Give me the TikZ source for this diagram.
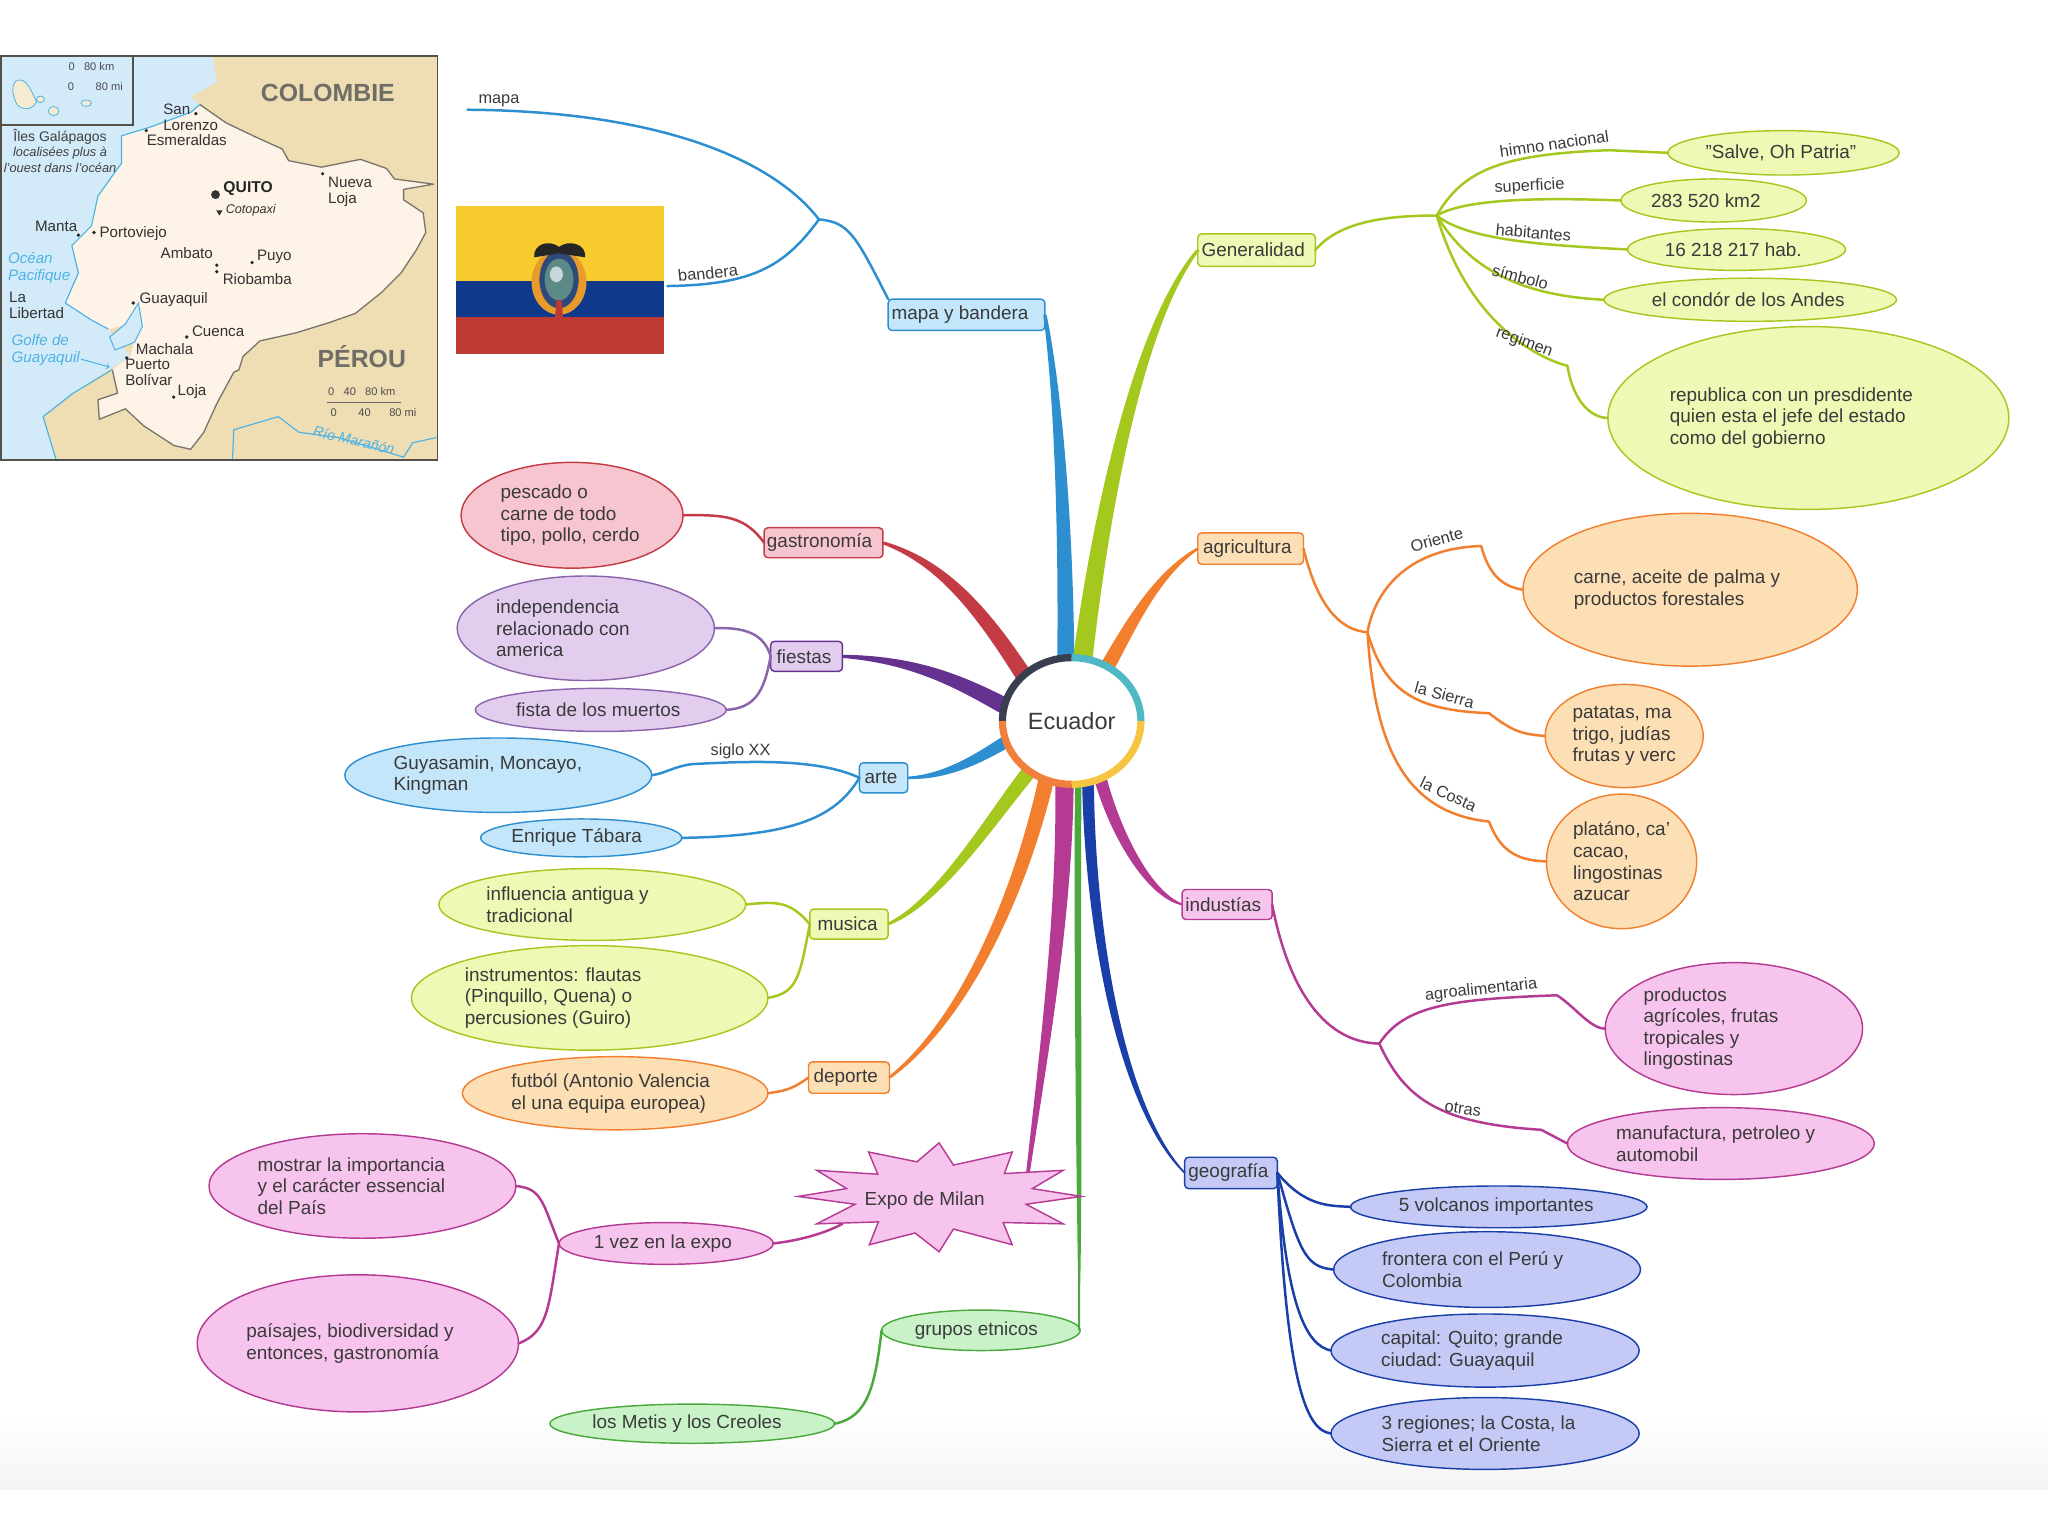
\documentclass[tikz,border=0pt]{standalone}
\usepackage{fontspec}
\setmainfont{Liberation Sans}
\usetikzlibrary{calc,shapes.geometric}
\definecolor{txt}{HTML}{3A3A3A}
\definecolor{cBlue}{HTML}{2E8FD0}\definecolor{fBlue}{HTML}{C4E6FA}
\definecolor{cLime}{HTML}{A4C81E}\definecolor{fLime}{HTML}{F0F8B6}
\definecolor{cOrange}{HTML}{F27F2E}\definecolor{fOrange}{HTML}{FDDFB5}
\definecolor{cRed}{HTML}{C23B45}\definecolor{fRed}{HTML}{F7C5D0}
\definecolor{cPurple}{HTML}{65328F}\definecolor{fPurple}{HTML}{E3CDEF}
\definecolor{cPink}{HTML}{B53A94}\definecolor{fPink}{HTML}{F6C4EC}
\definecolor{cNavy}{HTML}{1A3FA8}\definecolor{fNavy}{HTML}{C4C9F5}
\definecolor{cGreen}{HTML}{4AA83C}\definecolor{fGreen}{HTML}{C9F2C9}
\definecolor{mSea}{HTML}{D3EBF8}\definecolor{mTan}{HTML}{EFDDB3}
\definecolor{mLand}{HTML}{FDF3E6}\definecolor{mLine}{HTML}{77756A}
\definecolor{mWater}{HTML}{4DB3E6}\definecolor{mGrey}{HTML}{6E6E66}
\definecolor{flagY}{HTML}{F7CA2E}\definecolor{flagB}{HTML}{0F3A8C}\definecolor{flagR}{HTML}{BD3A32}
\definecolor{armG}{HTML}{E89A2A}\definecolor{armB}{HTML}{2E4A7A}\definecolor{armS}{HTML}{5C8A86}\definecolor{armW}{HTML}{C9D6DC}
\definecolor{rDark}{HTML}{3A3F50}\definecolor{rTeal}{HTML}{4FB8C4}\definecolor{rYel}{HTML}{F5C542}\definecolor{rOrg}{HTML}{F07F3C}
\tikzset{
  base/.style={font=\fontsize{14.5}{16.5}\selectfont,text=txt,align=left,inner sep=0pt,outer sep=0pt,line width=1.1pt},
  oval/.style={base,ellipse},
  tag/.style={base,rectangle,rounded corners=3pt},
  lnk/.style={line width=1.9pt,line cap=round,line join=round},
  lab/.style={font=\fontsize{12.5}{14}\selectfont,text=txt,inner sep=0pt},
  mtxt/.style={font=\fontsize{11.6}{12.5}\selectfont,text=black!80,inner sep=0pt,align=left},
  mblue/.style={font=\fontsize{11.6}{13}\itshape\selectfont,text=mWater,inner sep=0pt,align=left},
  msmall/.style={font=\fontsize{8.5}{10}\selectfont,text=black!70,inner sep=0pt},
}
\newcommand\pd[1]{\makebox[#1pt]{}}
% name x1 y1 x2 y2 style text
\newcommand\ov[7]{\node[oval,#6,minimum width={#4-#2},minimum height={#5-#3}] (#1) at ({(#2+#4)/2},{(#3+#5)/2}) {#7};}
\newcommand\tg[7]{\node[tag,#6,minimum width={#4-#2},minimum height={#5-#3}] (#1) at ({(#2+#4)/2},{(#3+#5)/2}) {#7};}
% colour, end, c1, c2, start, half-width vector
\newcommand\branch[6]{\fill[#1] ($#2+0.2*#6$) .. controls ($#3+0.5*#6$) and ($#4+0.85*#6$) .. ($#5+#6$) -- ($#5-#6$) .. controls ($#4-0.85*#6$) and ($#3-0.5*#6$) .. ($#2-0.2*#6$) -- cycle;}
\newcommand\mt[4][mtxt]{\node[#1] (#2) at #3 {#4};}
\begin{document}
\begin{tikzpicture}[x=1pt,y=-1pt]
\useasboundingbox (0,0) rectangle (1568,1176);
\fill[white] (0,0) rectangle (1568,1176);
\shade[top color=white,bottom color=black!4] (0,1080) rectangle (1568,1140);

%% ---------- map ----------
\fill[mTan] (0,43) rectangle (335,352);
\fill[mSea] (0,43) -- (163,43) -- (166,63) -- (146,74) -- (153,80) -- (146,86) -- (113,98) -- (93,104) -- (93,125) -- (75,150) -- (70,173) -- (55,188) -- (60,209) -- (50,232) -- (70,245) -- (83,252) -- (100,273) -- (83,283) -- (56,301) -- (33,319) -- (43,352) -- (0,352) -- cycle;
\fill[mLand] (153,80) -- (173,94) -- (196,105) -- (216,114) -- (221,123) -- (246,128) -- (276,122) -- (296,129) -- (302,137) -- (332,141) -- (309,145) -- (309,153) -- (324,163) -- (326,178) -- (319,191) -- (307,209) -- (292,224) -- (272,240) -- (252,247) -- (226,255) -- (199,261) -- (186,273) -- (183,283) -- (179,285) -- (173,296) -- (166,309) -- (156,331) -- (146,344) -- (133,341) -- (110,326) -- (96,313) -- (76,321) -- (75,306) -- (90,301) -- (86,283) -- (100,273) -- (108,234) -- (100,248) -- (83,252) -- (70,245) -- (50,232) -- (60,209) -- (55,188) -- (70,173) -- (75,150) -- (93,125) -- (93,104) -- (113,98) -- (146,86) -- cycle;
\draw[mLine,line width=1pt,line join=round] (153,80) -- (173,94) -- (196,105) -- (216,114) -- (221,123) -- (246,128) -- (276,122) -- (296,129) -- (302,137) -- (332,141) -- (309,145) -- (309,153) -- (324,163) -- (326,178) -- (319,191) -- (307,209) -- (292,224) -- (272,240) -- (252,247) -- (226,255) -- (199,261) -- (186,273) -- (183,283) -- (179,285) -- (173,296) -- (166,309) -- (156,331) -- (146,344) -- (133,341) -- (110,326) -- (96,313) -- (76,321) -- (75,306) -- (90,301) -- (86,283);
\draw[mWater,line width=.9pt,line join=round] (153,80) -- (146,86) -- (113,98) -- (93,104) -- (93,125) -- (75,150) -- (70,173) -- (55,188) -- (60,209) -- (50,232) -- (70,245) -- (83,252);
\filldraw[fill=mSea,draw=mWater,line width=.8pt] (106,232) -- (109,250) -- (103,262) -- (88,268) -- (84,258) -- (96,248) -- cycle;
\draw[mWater,line width=.9pt] (86,283) -- (56,301) -- (33,319) -- (43,352);
\draw[mWater,line width=.9pt] (178,352) -- (179,329) -- (213,319) -- (229,331) -- (259,335) -- (286,343) -- (309,350) -- (316,339) -- (334,335);
\draw[mWater,line width=.8pt,->] (62,275) -- (84,281);
\fill[mSea] (0,43) rectangle (102,96);
\filldraw[fill=mTan!60!white,draw=mWater,line width=.6pt] (12,62) .. controls (20,58) and (24,70) .. (28,78) .. controls (24,86) and (14,84) .. (12,78) .. controls (10,72) and (8,68) .. (12,62);
\filldraw[fill=mTan!60!white,draw=mWater,line width=.6pt] (41,85) circle[x radius=4,y radius=3.5];
\filldraw[fill=mTan!60!white,draw=mWater,line width=.6pt] (66,79) circle[x radius=4,y radius=2.5];
\filldraw[fill=mTan!60!white,draw=mWater,line width=.6pt] (31,76) circle[x radius=3,y radius=2.5];
\draw[mLine!70!black,line width=1.4pt] (0,96) -- (102,96) -- (102,43);
\draw[mLine!70!black,line width=1.2pt] (0.6,43) rectangle (335,352);
\mt[font=\fontsize{19}{21}\bfseries\selectfont,text=mGrey,inner sep=0pt]{mCo}{(251,71)}{COLOMBIE}
\mt[font=\fontsize{19}{21}\bfseries\selectfont,text=mGrey,inner sep=0pt]{mPe}{(277,273)}{PÉROU}
\mt[msmall]{mI1}{(70,51)}{0 \ \ 80 km}
\mt[msmall]{mI2}{(73,66)}{0 \ \ \ \ \ \ 80 mi}
\mt[font=\fontsize{10.7}{12}\selectfont,text=black!75,inner sep=0pt]{mG1}{(46,105)}{Îles Galápagos}
\mt[font=\fontsize{9.8}{10.5}\itshape\selectfont,text=black!75,inner sep=0pt]{mG2}{(46,122)}{\shortstack{localisées plus à\\l'ouest dans l'océan}}
\mt{m1}{(146,90)}{San\\Lorenzo}
\mt{m2}{(143,107)}{Esmeraldas}
\mt[font=\fontsize{12}{14}\bfseries\selectfont,text=black!85,inner sep=0pt]{m3}{(190,144)}{QUITO}
\mt[font=\fontsize{9.7}{11}\itshape\selectfont,text=black!80,inner sep=0pt]{m4}{(192,161)}{Cotopaxi}
\mt{m5}{(268,147)}{Nueva\\Loja}
\mt{m6}{(43,173)}{Manta}
\mt{m7}{(102,179)}{Portoviejo}
\mt{m8}{(143,194)}{Ambato}
\mt{m9}{(210,197)}{Puyo}
\mt{m10}{(197,214)}{Riobamba}
\mt{m11}{(28,234)}{La\\Libertad}
\mt{m12}{(133,229)}{Guayaquil}
\mt{m13}{(167,254)}{Cuenca}
\mt{m14}{(126,267)}{Machala}
\mt{m15}{(114,285)}{Puerto\\Bolívar}
\mt{m16}{(147,300)}{Loja}
\mt[mblue]{m17}{(30,205)}{Océan\\Pacifique}
\mt[mblue]{m18}{(35,268)}{Golfe de\\Guayaquil}
\mt[mblue,font=\fontsize{11}{13}\itshape\selectfont]{m19}{(271,337)}{\rotatebox{-13}{Río Marañón}}
\mt[msmall]{m20}{(277,300)}{0 \ \ 40 \ \ 80 km}
\mt[msmall]{m21}{(286,316)}{0 \ \ \ \ \ \ 40 \ \ \ \ \ 80 mi}
\draw[black!60,line width=.6pt] (250,308) -- (307,308);
\foreach \p in {(112,100),(72,178),(247,133),(60,180),(166,203),(193,201),(166,208),(102,232),(143,258),(97,274),(133,304),(150,87)}{\fill[black!85] \p circle[radius=1.4];}
\fill[black!80] (165,149) circle[radius=3.4];
\fill[black!80] (168,165) -- (165.5,161) -- (170.5,161) -- cycle;

%% ---------- flag ----------
\fill[flagY] (349,158) rectangle (508,215);
\fill[flagB] (349,215) rectangle (508,243);
\fill[flagR] (349,243) rectangle (508,271);
\fill[armG] (428,216) ellipse[x radius=21,y radius=25];
\fill[armB] (428,214) ellipse[x radius=15,y radius=22];
\fill[armS] (428,214) ellipse[x radius=11,y radius=16];
\fill[armW] (426,210) ellipse[x radius=5,y radius=6];
\fill[black!85] (428,194) -- (409,197) .. controls (408,187) and (420,183) .. (428,189) .. controls (436,183) and (449,187) .. (448,197) -- cycle;
\fill[flagR] (426,230) -- (430,230) -- (431,243) -- (425,243) -- cycle;

%% ---------- main tapered branches ----------
\coordinate (sBlue) at (816,504); \coordinate (sLime) at (829,504); \coordinate (sOrg) at (848,510);
\coordinate (sRed) at (783,516); \coordinate (sPur) at (770,541); \coordinate (sArt) at (770,568);
\coordinate (sMus) at (787,592); \coordinate (sDep) at (801,597); \coordinate (sExp) at (815,600);
\coordinate (sGrp) at (825.5,600); \coordinate (sGeo) at (833,600); \coordinate (sInd) at (843,598);

%% ---------- first level topics ----------
\tg{mb}{680}{229}{800}{253}{draw=cBlue,fill=fBlue}{mapa y bandera\pd{10}}
\tg{gen}{917}{179}{1007}{204}{draw=cLime,fill=fLime}{Generalidad\pd{5}}
\tg{agr}{917}{408}{998}{432}{draw=cOrange,fill=fOrange}{agricultura\pd{5}}
\tg{gas}{585}{404}{676}{427}{draw=cRed,fill=fRed}{gastronomía\pd{6}}
\tg{fie}{590}{491}{645}{514}{draw=cPurple,fill=fPurple}{fiestas\pd{4}}
\tg{art}{658}{584}{695}{607}{draw=cBlue,fill=fBlue}{arte\pd{4}}
\tg{mus}{620}{696}{680}{719}{draw=cLime,fill=fLime}{musica\pd{2}}
\tg{dep}{619}{813}{681}{837}{draw=cOrange,fill=fOrange}{deporte\pd{5}}
\tg{ind}{905}{681}{974}{704}{draw=cPink,fill=fPink}{industías\pd{6}}
\tg{geo}{907}{886}{978}{910}{draw=cNavy,fill=fNavy}{geografía\pd{4}}
\ov{gru}{675}{1003}{827}{1034}{draw=cGreen,fill=fGreen}{grupos etnicos\pd{7}}

\coordinate (eL) at (645,937); \coordinate (eT) at (787,898);

\branch{cBlue}{(mb.east)}{(810,300)}{(816,400)}{(sBlue)}{(6.5,0)}
\branch{cLime}{(gen.west)}{(870,250)}{(842,400)}{(sLime)}{(7.5,0)}
\branch{cOrange}{(agr.west)}{(885,440)}{(865,480)}{(sOrg)}{(5,2.5)}
\branch{cRed}{(gas.east)}{(720,430)}{(750,465)}{(sRed)}{(4.5,-4.5)}
\branch{cPurple}{(fie.east)}{(700,505)}{(735,522)}{(sPur)}{(2.4,-6)}
\branch{cBlue}{(art.east)}{(725,595)}{(750,580)}{(sArt)}{(1.8,4.5)}
\branch{cLime}{(mus.east)}{(720,690)}{(760,625)}{(sMus)}{(4,4)}
\branch{cOrange}{(dep.east)}{(740,780)}{(782,680)}{(sDep)}{(5.5,2.5)}
\branch{cPink}{(eT)}{(800,800)}{(815,700)}{(sExp)}{(7,0)}
\branch{cNavy}{(geo.west)}{(860,850)}{(835,720)}{(sGeo)}{(4.5,0)}
\branch{cPink}{(ind.west)}{(880,685)}{(855,640)}{(sInd)}{(4.2,-2.5)}
\fill[cGreen] (gru.east) ++(-1.5,0) -- (825.5,985) .. controls (824,900) and (822,720) .. (823,600) -- (828,600) .. controls (827,720) and (829,900) .. (827,985) -- (gru.east) -- cycle;

%% ---------- centre ----------
\node[ellipse,fill=white,minimum width=106pt,minimum height=97pt,inner sep=0pt,outer sep=0pt,font=\fontsize{18}{20}\selectfont,text=txt] (ecu) at (820.5,552) {Ecuador};
\draw[rDark,line width=5.5pt] (ecu.west) arc[start angle=180,end angle=90,x radius=53pt,y radius=48.5pt];
\draw[rTeal,line width=5.5pt] (ecu.north) arc[start angle=90,end angle=0,x radius=53pt,y radius=48.5pt];
\draw[rYel,line width=5.5pt] (ecu.east) arc[start angle=0,end angle=-90,x radius=53pt,y radius=48.5pt];
\draw[rOrg,line width=5.5pt] (ecu.south) arc[start angle=-90,end angle=-180,x radius=53pt,y radius=48.5pt];

%% ---------- star ----------
\filldraw[draw=cPink,fill=fPink,line width=1.1pt,line join=miter] (719,875) -- (730,892) -- (775,882) -- (769,898.5) -- (814,896) -- (790.4,910) -- (828,916) -- (785.6,922) -- (814,937) -- (768,936) -- (775,953) -- (730,941) -- (719,958.4) -- (700.6,944) -- (665.6,953) -- (672.5,935.5) -- (625.3,937) -- (654.6,922) -- (611,916) -- (648.2,910) -- (625.3,896) -- (672,899) -- (665,882) -- (702,889.5) -- cycle;
\node[base] (expo) at (708,919) {Expo de Milan};

%% ---------- leaves ----------
\ov{salve}{1277}{100}{1454}{134}{draw=cLime,fill=fLime}{"Salve, Oh Patria"\pd{4}}
\ov{sup}{1241}{137}{1383}{170}{draw=cLime,fill=fLime}{283 520 km2\pd{12}}
\ov{hab}{1246}{175}{1413}{207}{draw=cLime,fill=fLime}{16 218 217 hab.\pd{5}}
\ov{cond}{1228}{213}{1452}{246}{draw=cLime,fill=fLime}{el condór de los Andes\pd{3}}
\ov{rep}{1231}{250}{1538}{390}{draw=cLime,fill=fLime}{republica con un presdidente\pd{26}\\quien esta el jefe del estado\\como del gobierno}
\ov{carne}{1166}{393}{1422}{510}{draw=cOrange,fill=fOrange}{carne, aceite de palma y\pd{20}\\productos forestales}
\ov{pat}{1183}{524}{1304}{603}{draw=cOrange,fill=fOrange}{patatas, ma\pd{3}\\trigo, judías\\frutas y verc}
\ov{plat}{1184}{608}{1299}{711}{draw=cOrange,fill=fOrange}{platáno, ca'\\cacao,\\lingostinas\\azucar}
\ov{prod}{1229}{737}{1426}{838}{draw=cPink,fill=fPink}{productos\\agrícoles, frutas\pd{35}\\tropicales y\\lingostinas}
\ov{manu}{1200}{848}{1435}{903}{draw=cPink,fill=fPink}{manufactura, petroleo y\pd{8}\\automobil}
\ov{vol}{1034}{908}{1261}{940}{draw=cNavy,fill=fNavy}{5 volcanos importantes\pd{4}}
\ov{fro}{1021}{943}{1256}{1001}{draw=cNavy,fill=fNavy}{frontera con el Perú y\pd{22}\\Colombia}
\ov{cap}{1019}{1006}{1255}{1062}{draw=cNavy,fill=fNavy}{capital: Quito; grande\pd{20}\\ciudad: Guayaquil}
\ov{reg}{1019}{1070}{1255}{1125}{draw=cNavy,fill=fNavy}{3 regiones; la Costa, la\pd{10}\\Sierra et el Oriente}
\ov{pes}{353}{354}{523}{435}{draw=cRed,fill=fRed}{pescado o\\carne de todo\\tipo, pollo, cerdo\pd{3}}
\ov{inde}{350}{441}{547}{521}{draw=cPurple!75!white,fill=fPurple}{independencia\\relacionado con\pd{35}\\america}
\ov{fis}{364}{527}{556}{560}{draw=cPurple!75!white,fill=fPurple}{fista de los muertos\pd{4}}
\ov{guy}{264}{565}{499}{622}{draw=cBlue,fill=fBlue}{Guyasamin, Moncayo,\pd{16}\\Kingman}
\ov{enr}{368}{627}{522}{656}{draw=cBlue,fill=fBlue}{Enrique Tábara\pd{7}}
\ov{inf}{336}{665}{571}{720}{draw=cLime,fill=fLime}{influencia antigua y\pd{38}\\tradicional}
\ov{ins}{315}{724}{588}{804}{draw=cLime,fill=fLime}{instrumentos: flautas\pd{56}\\(Pinquillo, Quena) o\\percusiones (Guiro)}
\ov{fut}{354}{809}{588}{865}{draw=cOrange,fill=fOrange}{futból (Antonio Valencia\pd{7}\\el una equipa europea)}
\ov{mos}{160}{868}{395}{948}{draw=cPink,fill=fPink}{mostrar la importancia\pd{17}\\y el carácter essencial\\del País}
\ov{pai}{151}{976}{397}{1081}{draw=cPink,fill=fPink}{paísajes, biodiversidad y\pd{12}\\entonces, gastronomía}
\ov{vez}{428}{936}{592}{968}{draw=cPink,fill=fPink}{1 vez en la expo\pd{5}}
\ov{met}{421}{1075}{639}{1105}{draw=cGreen,fill=fGreen}{los Metis y los Creoles\pd{8}}

%% ---------- thin connectors ----------
\coordinate (jMb) at (627,168); \coordinate (eMapa) at (358,84); \coordinate (eBan) at (511,219);
\draw[lnk,cBlue] (mb.north west) .. controls (655,180) and (650,170) .. (jMb);
\draw[lnk,cBlue] (jMb) .. controls (590,120) and (500,85) .. (eMapa);
\draw[lnk,cBlue] (jMb) .. controls (600,205) and (575,218) .. (eBan);
\node[lab,anchor=south] (lMapa) at (382,82) {mapa};
\node[lab,rotate=6] (lBan) at (542,209) {bandera};

\coordinate (jGen) at (1100,165);
\coordinate (kHim) at (1232,115); \coordinate (kReg) at (1200,280);
\draw[lnk,cLime] (gen.east) .. controls (1025,170) and (1060,165) .. (jGen);
\draw[lnk,cLime] (jGen) .. controls (1120,130) and (1150,118) .. (kHim) -- (salve.west);
\draw[lnk,cLime] (jGen) .. controls (1125,150) and (1200,152) .. (sup.west);
\draw[lnk,cLime] (jGen) .. controls (1125,185) and (1190,188) .. (hab.west);
\draw[lnk,cLime] (jGen) .. controls (1130,215) and (1180,227) .. (cond.west);
\draw[lnk,cLime] (jGen) .. controls (1125,250) and (1180,275) .. (kReg) .. controls (1205,310) and (1220,320) .. (rep.west);
\node[lab,rotate=8] (lHim) at (1190,110) {himno nacional};
\node[lab,rotate=3] (lSup) at (1171,143) {superficie};
\node[lab,rotate=-5] (lHab) at (1174,178) {habitantes};
\node[lab,rotate=-15] (lSim) at (1164,212) {símbolo};
\node[lab,rotate=-20] (lReg) at (1167,262) {regimen};

\coordinate (jAgr) at (1047,484);
\coordinate (kOri) at (1134,418); \coordinate (kSie) at (1140,546); \coordinate (kCos) at (1140,629);
\draw[lnk,cOrange] (agr.east) .. controls (1010,470) and (1030,483) .. (jAgr);
\draw[lnk,cOrange] (jAgr) .. controls (1052,455) and (1075,420) .. (kOri) .. controls (1140,440) and (1150,449) .. (carne.west);
\draw[lnk,cOrange] (jAgr) .. controls (1060,530) and (1085,544) .. (kSie) .. controls (1158,560) and (1165,562) .. (pat.west);
\draw[lnk,cOrange] (jAgr) .. controls (1052,565) and (1072,622) .. (kCos) .. controls (1148,650) and (1160,659) .. (plat.west);
\node[lab,rotate=15] (lOri) at (1100,413) {Oriente};
\node[lab,rotate=-15] (lSie) at (1106,532) {la Sierra};
\node[lab,rotate=-25] (lCos) at (1109,608) {la Costa};

\draw[lnk,cRed] (gas.west) .. controls (570,395) and (555,394) .. (pes.east);
\draw[lnk,cPurple!75!white] (fie.west) .. controls (585,485) and (570,480) .. (inde.east);
\draw[lnk,cPurple!75!white] (fie.west) .. controls (585,530) and (578,542) .. (fis.east);
\draw[lnk,cBlue] (art.west) .. controls (625,580) and (570,583) .. (530,585) .. controls (515,587) and (510,592) .. (guy.east);
\draw[lnk,cBlue] (art.west) .. controls (640,625) and (610,640) .. (enr.east);
\node[lab] (lSig) at (567,575) {siglo XX};
\draw[lnk,cLime] (mus.west) .. controls (605,690) and (595,690) .. (inf.east);
\draw[lnk,cLime] (mus.west) .. controls (612,750) and (610,760) .. (ins.east);
\draw[lnk,cOrange] (dep.west) .. controls (605,835) and (600,835) .. (fut.east);

\coordinate (jInd) at (1056,799);
\coordinate (kAgr) at (1192,762); \coordinate (kOtr) at (1180,865);
\draw[lnk,cPink] (ind.east) .. controls (985,750) and (1010,798) .. (jInd);
\draw[lnk,cPink] (jInd) .. controls (1075,770) and (1110,765) .. (kAgr) .. controls (1205,770) and (1218,788) .. (prod.west);
\draw[lnk,cPink] (jInd) .. controls (1075,840) and (1100,860) .. (kOtr) -- (manu.west);
\node[lab,rotate=6] (lAgr) at (1134,758) {agroalimentaria};
\node[lab,rotate=-8] (lOtr) at (1120,849) {otras};

\draw[lnk,cNavy] (geo.east) .. controls (1000,925) and (1020,923) .. (vol.west);
\draw[lnk,cNavy] (geo.east) .. controls (995,960) and (1000,970) .. (fro.west);
\draw[lnk,cNavy] (geo.east) .. controls (985,1000) and (1000,1030) .. (cap.west);
\draw[lnk,cNavy] (geo.east) .. controls (985,1060) and (1000,1095) .. (reg.west);

\draw[lnk,cPink] (vez.east) .. controls (610,950) and (630,945) .. (eL);
\draw[lnk,cPink] (vez.west) .. controls (415,920) and (415,910) .. (mos.east);
\draw[lnk,cPink] (vez.west) .. controls (420,1000) and (420,1020) .. (pai.east);
\draw[lnk,cGreen] (gru.west) .. controls (670,1060) and (665,1085) .. (met.east);
\end{tikzpicture}
\end{document}
